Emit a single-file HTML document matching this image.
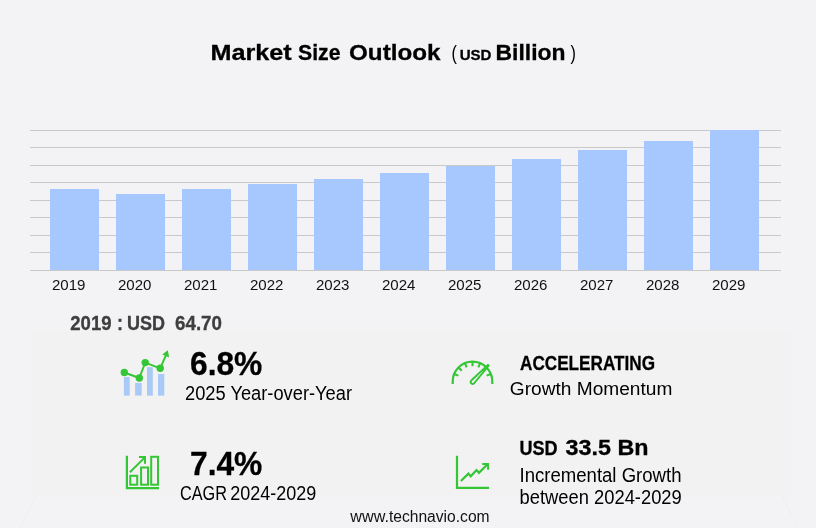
<!DOCTYPE html>
<html lang="en"><head><meta charset="utf-8"><title>Market Size Outlook</title>
<style>
html,body{margin:0;padding:0;background:#f3f3f6;}
body{width:816px;height:528px;overflow:hidden;font-family:"Liberation Sans",sans-serif;}
svg{display:block;}
text{font-family:"Liberation Sans",sans-serif;}
.b{font-weight:bold;stroke-width:0.3px;}
</style></head><body>
<svg width="816" height="528" viewBox="0 0 816 528">
<rect x="0" y="0" width="816" height="528" fill="#f3f3f6"/>
<rect x="31" y="330" width="761" height="166" fill="#f2f2f2"/>
<line x1="36" y1="496" x2="20" y2="528" stroke="#e9edf0" stroke-width="1" stroke-dasharray="1.1 1.1"/>
<line x1="782" y1="496" x2="798" y2="528" stroke="#e9edf0" stroke-width="1" stroke-dasharray="1.1 1.1"/>

<rect x="30" y="130" width="751" height="1" fill="#c9c9c9"/>
<rect x="30" y="147" width="751" height="1" fill="#c9c9c9"/>
<rect x="30" y="165" width="751" height="1" fill="#c9c9c9"/>
<rect x="30" y="182" width="751" height="1" fill="#c9c9c9"/>
<rect x="30" y="200" width="751" height="1" fill="#c9c9c9"/>
<rect x="30" y="217" width="751" height="1" fill="#c9c9c9"/>
<rect x="30" y="235" width="751" height="1" fill="#c9c9c9"/>
<rect x="30" y="252" width="751" height="1" fill="#c9c9c9"/>
<rect x="30" y="270" width="751" height="1" fill="#c9c9c9"/>
<rect x="50" y="189" width="49" height="81" fill="#a6c8fe"/>
<rect x="116" y="194" width="49" height="76" fill="#a6c8fe"/>
<rect x="182" y="189" width="49" height="81" fill="#a6c8fe"/>
<rect x="248" y="184" width="49" height="86" fill="#a6c8fe"/>
<rect x="314" y="179" width="49" height="91" fill="#a6c8fe"/>
<rect x="380" y="173" width="49" height="97" fill="#a6c8fe"/>
<rect x="446" y="166" width="49" height="104" fill="#a6c8fe"/>
<rect x="512" y="159" width="49" height="111" fill="#a6c8fe"/>
<rect x="578" y="150" width="49" height="120" fill="#a6c8fe"/>
<rect x="644" y="141" width="49" height="129" fill="#a6c8fe"/>
<rect x="710" y="130" width="49" height="140" fill="#a6c8fe"/>
<rect x="30" y="270" width="751" height="1" fill="#c9c9c9"/>
<text id="y2019" x="52" y="290.1" font-size="15.5" textLength="33.5" lengthAdjust="spacingAndGlyphs" fill="#111">2019</text>
<text id="y2020" x="118" y="290.1" font-size="15.5" textLength="33.5" lengthAdjust="spacingAndGlyphs" fill="#111">2020</text>
<text id="y2021" x="184" y="290.1" font-size="15.5" textLength="33.5" lengthAdjust="spacingAndGlyphs" fill="#111">2021</text>
<text id="y2022" x="250" y="290.1" font-size="15.5" textLength="33.5" lengthAdjust="spacingAndGlyphs" fill="#111">2022</text>
<text id="y2023" x="316" y="290.1" font-size="15.5" textLength="33.5" lengthAdjust="spacingAndGlyphs" fill="#111">2023</text>
<text id="y2024" x="382" y="290.1" font-size="15.5" textLength="33.5" lengthAdjust="spacingAndGlyphs" fill="#111">2024</text>
<text id="y2025" x="448" y="290.1" font-size="15.5" textLength="33.5" lengthAdjust="spacingAndGlyphs" fill="#111">2025</text>
<text id="y2026" x="514" y="290.1" font-size="15.5" textLength="33.5" lengthAdjust="spacingAndGlyphs" fill="#111">2026</text>
<text id="y2027" x="580" y="290.1" font-size="15.5" textLength="33.5" lengthAdjust="spacingAndGlyphs" fill="#111">2027</text>
<text id="y2028" x="646" y="290.1" font-size="15.5" textLength="33.5" lengthAdjust="spacingAndGlyphs" fill="#111">2028</text>
<text id="y2029" x="712" y="290.1" font-size="15.5" textLength="33.5" lengthAdjust="spacingAndGlyphs" fill="#111">2029</text>
<text id="t1a" class="b" x="210.4" y="59.75" font-size="22.7" textLength="81.3" lengthAdjust="spacingAndGlyphs" fill="#000" stroke="#000">Market</text>
<text id="t1b" class="b" x="298" y="59.75" font-size="22.7" textLength="42.5" lengthAdjust="spacingAndGlyphs" fill="#000" stroke="#000">Size</text>
<text id="t1c" class="b" x="349" y="59.75" font-size="22.7" textLength="91.5" lengthAdjust="spacingAndGlyphs" fill="#000" stroke="#000">Outlook</text>
<text id="t2" x="451.6" y="59.5" font-size="20" textLength="5.4" lengthAdjust="spacingAndGlyphs" fill="#000">(</text>
<text id="t3" class="b" x="459.7" y="59.75" font-size="15.2" textLength="31.8" lengthAdjust="spacingAndGlyphs" fill="#000" stroke="#000">USD</text>
<text id="t4" class="b" x="495.5" y="59.75" font-size="22.7" textLength="70" lengthAdjust="spacingAndGlyphs" fill="#000" stroke="#000">Billion</text>
<text id="t5" x="570.4" y="59.5" font-size="20" textLength="5.4" lengthAdjust="spacingAndGlyphs" fill="#000">)</text>
<text id="s1" class="b" x="70.3" y="330" font-size="19.5" textLength="41.3" lengthAdjust="spacingAndGlyphs" fill="#3e3e3e" stroke="#3e3e3e">2019</text>
<text id="s2" class="b" x="117" y="330" font-size="19.5" textLength="6" lengthAdjust="spacingAndGlyphs" fill="#3e3e3e" stroke="#3e3e3e">:</text>
<text id="s3" class="b" x="127.1" y="330" font-size="19.5" textLength="38" lengthAdjust="spacingAndGlyphs" fill="#3e3e3e" stroke="#3e3e3e">USD</text>
<text id="s4" class="b" x="175" y="330" font-size="19.5" textLength="47" lengthAdjust="spacingAndGlyphs" fill="#3e3e3e" stroke="#3e3e3e">64.70</text>
<text id="a1" class="b" x="190" y="375" font-size="32.7" textLength="72.3" lengthAdjust="spacingAndGlyphs" fill="#000" stroke="#000">6.8%</text>
<text id="a2" x="185" y="400" font-size="19.6" textLength="167" lengthAdjust="spacingAndGlyphs" fill="#000">2025 Year-over-Year</text>
<text id="b1" class="b" x="190" y="475.1" font-size="32.7" textLength="72.3" lengthAdjust="spacingAndGlyphs" fill="#000" stroke="#000">7.4%</text>
<text id="b2a" x="180" y="499.75" font-size="19.8" textLength="47" lengthAdjust="spacingAndGlyphs" fill="#000">CAGR</text>
<text id="b2b" x="230.2" y="499.75" font-size="19.4" textLength="86" lengthAdjust="spacingAndGlyphs" fill="#000">2024-2029</text>
<text id="c1" class="b" x="520" y="370" font-size="20" textLength="135" lengthAdjust="spacingAndGlyphs" fill="#000" stroke="#000">ACCELERATING</text>
<text id="c2" x="509.8" y="394.6" font-size="19.2" textLength="162.5" lengthAdjust="spacingAndGlyphs" fill="#000">Growth Momentum</text>
<text id="d1" class="b" x="519.4" y="454.5" font-size="19.6" textLength="38.2" lengthAdjust="spacingAndGlyphs" fill="#000" stroke="#000">USD</text>
<text id="d2" class="b" x="565.6" y="454.5" font-size="22.1" textLength="83" lengthAdjust="spacingAndGlyphs" fill="#000" stroke="#000">33.5 Bn</text>
<text id="d3" x="519.5" y="482" font-size="19.6" textLength="162" lengthAdjust="spacingAndGlyphs" fill="#000">Incremental Growth</text>
<text id="d4" x="519.5" y="504.25" font-size="19.6" textLength="162.3" lengthAdjust="spacingAndGlyphs" fill="#000">between 2024-2029</text>
<text id="f1a" x="350.3" y="522.1" font-size="16" textLength="38.6" lengthAdjust="spacingAndGlyphs" fill="#111">www.</text>
<text id="f1b" x="388.9" y="522.1" font-size="16" textLength="100.7" lengthAdjust="spacingAndGlyphs" fill="#111">technavio.com</text>

<g id="ic1">
<rect x="123.9" y="377" width="5.8" height="18.6" fill="#a9c9f6"/>
<rect x="135.1" y="382.9" width="6.6" height="12.7" fill="#a9c9f6"/>
<rect x="147" y="367.2" width="5.8" height="28.4" fill="#a9c9f6"/>
<rect x="158" y="374" width="6.3" height="21.6" fill="#a9c9f6"/>
<polyline points="124.3,372.5 139.3,378 145.2,362.6 160.2,368.3 166.5,354" fill="none" stroke="#34c634" stroke-width="1.9" stroke-linejoin="round"/>
<circle cx="124.3" cy="372.5" r="3.7" fill="#34c634"/>
<circle cx="139.3" cy="378" r="3.7" fill="#34c634"/>
<circle cx="145.2" cy="362.6" r="3.7" fill="#34c634"/>
<circle cx="160.2" cy="368.3" r="3.7" fill="#34c634"/>
<polygon points="167.8,350.3 169.2,357.6 162.2,354.6" fill="#34c634"/>
</g>
<g id="ic2" fill="none" stroke="#34c634" stroke-width="2">
<polyline points="126.9,455.8 126.9,488.1 159,488.1" stroke-width="2.2"/>
<rect x="130.3" y="475.8" width="6.9" height="8.9"/>
<rect x="141.1" y="467.5" width="6.9" height="17.2"/>
<rect x="151.2" y="456.8" width="6.8" height="27.9"/>
<polyline points="129.9,472.3 144.6,457.6"/>
<polyline points="138.9,456.9 145,456.9 145,463.7"/>
</g>


<g id="ic3" fill="none" stroke="#34c634" stroke-width="2.1">
<path d="M452.7,384.1 V381.5 A19.8,19.8 0 0 1 492.3,381.5 V384.1" stroke-width="2.2"/>
<line x1="472.50" y1="366.20" x2="472.50" y2="361.70"/>
<line x1="478.36" y1="367.36" x2="480.08" y2="363.21"/>
<line x1="466.64" y1="367.36" x2="464.92" y2="363.21"/>
<line x1="483.32" y1="370.68" x2="486.50" y2="367.50"/>
<line x1="461.68" y1="370.68" x2="458.50" y2="367.50"/>
<line x1="486.64" y1="375.64" x2="490.79" y2="373.92"/>
<line x1="458.36" y1="375.64" x2="454.21" y2="373.92"/>
<path d="M474.16,383.27 L488.67,365.54 L487.93,364.86 L471.24,380.53 A2.0,2.0 0 0 0 474.16,383.27 Z" stroke-width="1.9" stroke-linejoin="round"/>
</g>
<g id="ic4" fill="none" stroke="#34c634" stroke-width="2.2">
<polyline points="457,455.7 457,487.9 489.1,487.9"/>
<polyline points="460.9,481 468.4,473.6 470.7,476.3 476.5,470.1 478.9,472.8 487.6,464.2"/>
<polyline points="482.2,463.9 488.1,463.9 488.1,469.7" stroke-width="2"/>
</g>

</svg></body></html>
